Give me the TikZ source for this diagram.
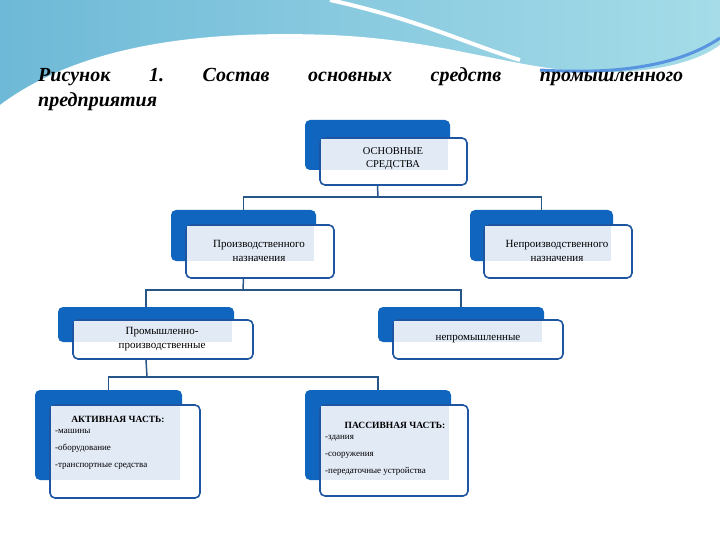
\documentclass[tikz,border=0pt]{standalone}
\usepackage{fontspec}
\setmainfont{Liberation Serif}
\usetikzlibrary{fit}
\definecolor{bblue}{RGB}{16,102,190}
\definecolor{bord}{RGB}{30,85,160}
\definecolor{conn}{RGB}{40,85,135}
\definecolor{pale}{RGB}{226,234,246}
\definecolor{wave1}{RGB}{110,185,215}
\definecolor{wave2}{RGB}{165,220,232}
\tikzset{
 back/.style={fill=bblue,draw=none,rounded corners=5pt,inner sep=0pt},
 front/.style={fill=white,draw=bord,line width=1.6pt,rounded corners=5pt,inner sep=0pt},
 connline/.style={draw=conn,line width=1.5pt},
 lbl/.style={font=\fontsize{11}{14}\selectfont,align=center,inner sep=0pt},
 lst/.style={font=\fontsize{9}{17}\selectfont,align=left,anchor=north west,inner sep=0pt},
 hd/.style={font=\bfseries\fontsize{9.5}{12}\selectfont,inner sep=0pt},
}
\begin{document}
\begin{tikzpicture}[x=1pt,y=-1pt]
\useasboundingbox (0,0) rectangle (720,540);
\fill[white] (0,0) rectangle (720,540);
% top wave
\shade[left color=wave1,right color=wave2] (0,0) rectangle (720,110);
\fill[white] (0,105) .. controls (80,45) and (200,30) .. (330,35) .. controls (450,40) and (520,72) .. (600,72) .. controls (660,73) and (700,60) .. (720,45) -- (720,540) -- (0,540) -- cycle;
\draw[white,line width=4pt] (330,0) .. controls (420,20) and (470,45) .. (520,60);
\draw[wave1!80!blue,line width=3pt] (540,70) .. controls (620,75) and (680,65) .. (720,38);
% title
\node[anchor=base west,inner sep=0pt,font=\bfseries\itshape\fontsize{20}{24}\selectfont] (t1) at (38,82) {\makebox[645pt][s]{Рисунок\hfill 1.\hfill Состав\hfill основных\hfill средств\hfill промышленного}};
\node[anchor=base west,inner sep=0pt,font=\bfseries\itshape\fontsize{20}{24}\selectfont] (t2) at (38,107) {предприятия};
% boxes
\newcommand{\mybox}[9]{%
 \node[back,fit={(#2,#3)(#4,#5)}] (b#1) {};
 \node[front,fit={(#6,#7)(#8,#9)}] (f#1) {};
 \fill[pale] ([xshift=2pt,yshift=-2pt]f#1.north west) rectangle ([xshift=-2pt]b#1.south east);
}
\mybox{1}{305}{120}{450}{170}{320}{138}{467}{185}
\mybox{2}{171}{210}{316}{261}{186}{225}{334}{278}
\mybox{3}{470}{210}{613}{261}{484}{225}{632}{278}
\mybox{4}{58}{307}{234}{342}{73}{320}{253}{359}
\mybox{5}{378}{307}{544}{342}{393}{320}{563}{359}
\mybox{6}{35}{390}{182}{480}{50}{405}{200}{498}
\mybox{7}{305}{390}{451}{480}{320}{405}{468}{496}
% connectors
\coordinate (j1) at (378,197);
\coordinate (j2) at (243,290);
\coordinate (j3) at (147,377);
\draw[connline] (b1.south |- f1.south) -- (j1);
\draw[connline] (j1) -| (b2.north);
\draw[connline] (j1) -| (b3.north);
\draw[connline] (b2.south |- f2.south) -- (j2);
\draw[connline] (j2) -| (b4.north);
\draw[connline] (j2) -| (b5.north);
\draw[connline] (b4.south |- f4.south) -- (j3);
\draw[connline] (j3) -| (b6.north);
\draw[connline] (j3) -| (b7.north);
% labels
\node[lbl,font=\fontsize{10.5}{13}\selectfont] (l1) at (393,159) {ОСНОВНЫЕ\\СРЕДСТВА};
\node[lbl] (l2) at (259,251) {Производственного\\назначения};
\node[lbl] (l3) at (557,251) {Непроизводственного\\назначения};
\node[lbl] (l4) at (162,339) {Промышленно-\\производственные};
\node[lbl] (l5) at (478,339) {непромышленные};
\node[hd] (h6) at (118,419) {АКТИВНАЯ ЧАСТЬ:};
\node[lst] (s6) at (55,429) {-машины\\-оборудование\\-транспортные средства};
\node[hd] (h7) at (395,425) {ПАССИВНАЯ ЧАСТЬ:};
\node[lst] (s7) at (325,435) {-здания\\-сооружения\\-передаточные устройства};
\end{tikzpicture}
\end{document}
